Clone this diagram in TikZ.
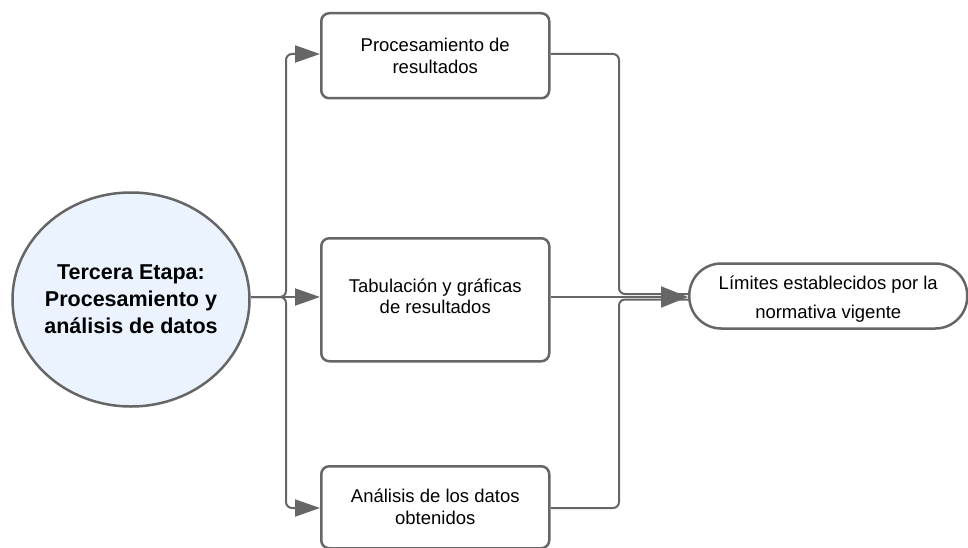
\documentclass[tikz,border=0pt]{standalone}
\usepackage{fontspec}
\setmainfont{Liberation Sans}
\usetikzlibrary{arrows.meta,positioning,shapes.geometric}
\definecolor{lineg}{HTML}{666666}
\definecolor{circfill}{HTML}{EAF3FE}
\begin{document}
\begin{tikzpicture}[x=1pt,y=-1pt,
  stepbox/.style={draw=lineg,line width=2.5pt,rounded corners=8pt,fill=white,
    minimum width=228pt,align=center,font=\fontsize{18.5}{22}\selectfont,inner sep=0pt},
  conn/.style={draw=lineg,line width=2pt,rounded corners=6pt},
  arr/.style={conn,-{Triangle[length=25pt,width=17pt]}}]
\useasboundingbox (0,0) rectangle (968,548);
\node[draw=lineg,line width=2.5pt,fill=circfill,ellipse,minimum width=237pt,minimum height=214pt,
  inner xsep=-8pt,inner ysep=0pt,align=center,font=\bfseries\fontsize{21.5}{27}\selectfont]
  (c) at (131,299.5) {Tercera Etapa:\\Procesamiento y\\análisis de datos};
\node[stepbox,minimum height=85pt,anchor=north west] (b1) at (320,12)
  {Procesamiento de\\resultados};
\node[stepbox,minimum height=123pt,anchor=north west] (b2) at (320,237)
  {\raisebox{20pt}{\begin{tabular}{@{}c@{}}Tabulación y gráficas\\[-1pt]de resultados\end{tabular}}};
\node[stepbox,minimum height=82pt,anchor=north west] (b3) at (320,465)
  {Análisis de los datos\\obtenidos};
\node[draw=lineg,line width=2.5pt,rounded corners=32pt,fill=white,minimum width=278pt,
  minimum height=65pt,anchor=west,align=center,font=\fontsize{18.5}{22}\selectfont,inner sep=0pt]
  (t) at (688,296)
  {\raisebox{-4pt}[\height][\depth]{\begin{tabular}{@{}c@{}}Límites establecidos por la\\[7pt]normativa vigente\end{tabular}}};
\coordinate (lt) at (286,297);
\coordinate (rt) at (618,297);
% left side
\draw[arr] (c.east |- lt) -- (lt) |- (b1.west |- 0,54);
\draw[arr] (c.east |- lt) -- (b2.west |- lt);
\draw[arr] (c.east |- lt) -- (lt) |- (b3.west |- 0,508);
% right side
\draw[conn] (b1.east |- 0,54) -| (619,294) -- (t.west |- 0,294);
\draw[conn] (b3.east |- 0,508) -| (619,299.5) -- (t.west |- 0,299.5);
\draw[conn,-{Triangle[length=27pt,width=21pt]}] (b2.east |- rt) -- (t.west |- rt);
\end{tikzpicture}
\end{document}
